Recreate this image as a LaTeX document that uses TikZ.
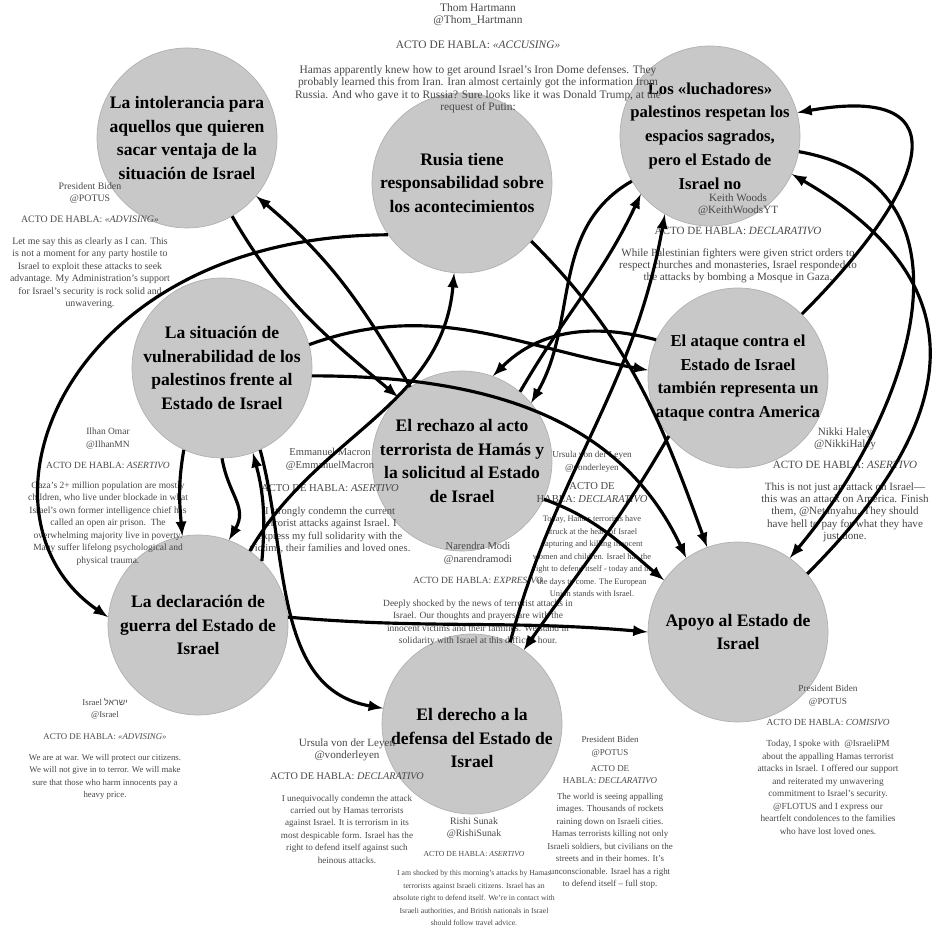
\documentclass[tikz,border=0pt]{standalone}
\usepackage{fontspec}
\setmainfont{Liberation Serif}
\newfontfamily\hebfont[Script=Hebrew]{Liberation Sans}
\TeXXeTstate=1
\usepackage{xcolor}
\usepackage{tikz}
\definecolor{catgray}{HTML}{C8C8C8}
\definecolor{catedge}{HTML}{B0B0B0}
\definecolor{tweetgray}{HTML}{474747}
\newcommand{\bigname}[2]{{\fontsize{#1}{8.6}\selectfont #2}}

\begin{document}
\begin{tikzpicture}[x=0.02cm, y=0.02cm,
    cat/.style={circle, fill=catgray, draw=catedge, minimum size=3.6cm, inner sep=0pt},
    cattext/.style={align=center, inner sep=0pt, font={\fontsize{10}{13.5}\selectfont\bfseries}},
    tweet/.style={anchor=north, align=center, inner sep=0pt, text=tweetgray, font={\fontsize{6.3}{7.1}\selectfont}},
    tsize/.style={font={\fontsize{#1}{7.1}\selectfont}},
    flow/.style={-latex, line width=1.8pt}]
    \useasboundingbox (0,0) rectangle (950,936);
        % categorias
        \node[cat, label={[cattext]center:La intolerancia para\\ aquellos que quieren\\ sacar ventaja de la\\ situación de Israel}] (intol) at (187,798) {};
        \node[cat, label={[cattext]center:Rusia tiene\\ responsabilidad sobre\\ los acontecimientos}] (rusia) at (462,753) {};
        \node[cat, label={[cattext, font={\fontsize{9.5}{13.5}\selectfont\bfseries}]center:Los «luchadores»\\ palestinos respetan los\\ espacios sagrados,\\ pero el Estado de\\ Israel no}] (luch) at (710,800) {};
        \node[cat, label={[cattext]center:La situación de\\ vulnerabilidad de los\\ palestinos frente al\\ Estado de Israel}] (vuln) at (222,568) {};
        \node[cat, label={[cattext]center:El rechazo al acto\\ terrorista de Hamás y\\ la solicitud al Estado\\ de Israel}] (rech) at (462,475) {};
        \node[cat, label={[cattext, font={\fontsize{9.5}{13.5}\selectfont\bfseries}]center:El ataque contra el\\ Estado de Israel\\ también representa un\\ ataque contra America}] (ataq) at (738,558) {};
        \node[cat, label={[cattext]center:La declaración de\\ guerra del Estado de\\ Israel}] (guerra) at (198,311) {};
        \node[cat, label={[cattext]center:Apoyo al Estado de\\ Israel}] (apoyo) at (738,304) {};
        \node[cat, label={[cattext, yshift=-8pt]center:El derecho a la\\ defensa del Estado de\\ Israel}] (derecho) at (472,212) {};

        % tweets
        \node[tweet, tsize=6.5] (thom) at (478,933) {Thom Hartmann\\ @Thom\_Hartmann\\[7pt] ACTO DE HABLA: \textit{«ACCUSING»}\\[7pt] Hamas apparently knew how to get around Israel’s Iron Dome defenses. They\\ probably learned this from Iran. Iran almost certainly got the information from\\ Russia. And who gave it to Russia? Sure looks like it was Donald Trump, at the\\ request of Putin:};
        \node[tweet, tsize=5.6] (bidenA) at (90,754) {President Biden\\ @POTUS\\[5pt] ACTO DE HABLA: \textit{«ADVISING»}\\[5pt] Let me say this as clearly as I can. This\\ is not a moment for any party hostile to\\ Israel to exploit these attacks to seek\\ advantage. My Administration’s support\\ for Israel’s security is rock solid and\\ unwavering.};
        \node[tweet] (keith) at (738,743) {Keith Woods\\ @KeithWoodsYT\\[5pt] ACTO DE HABLA: \textit{DECLARATIVO}\\[5pt] While Palestinian fighters were given strict orders to\\ respect churches and monasteries, Israel responded to\\ the attacks by bombing a Mosque in Gaza.};
        \node[tweet, tsize=5.4] (ilhan) at (108,508) {Ilhan Omar\\ @IlhanMN\\[5pt] ACTO DE HABLA: \textit{ASERTIVO}\\[4pt] Gaza’s 2+ million population are mostly\\ children, who live under blockade in what\\ Israel’s own former intelligence chief has\\ called an open air prison.\ \ The\\ overwhelming majority live in poverty.\\ Many suffer lifelong psychological and\\ physical trauma.};
        \node[tweet, tsize=6.0] (macron) at (330,488) {Emmanuel Macron\\ @EmmanuelMacron\\[6pt] ACTO DE HABLA: \textit{ASERTIVO}\\[6pt] I strongly condemn the current\\ terrorist attacks against Israel. I\\ express my full solidarity with the\\ victims, their families and loved ones.};
        \node[tweet, tsize=4.8] (ursulaA) at (592,485) {\bigname{5.2}{Ursula von der Leyen}\\ \bigname{5.2}{@vonderleyen}\\[4pt] \bigname{6}{ACTO DE}\\ \bigname{6}{HABLA: \textit{DECLARATIVO}}\\[4pt] Today, Hamas terrorists have\\ struck at the heart of Israel\\ capturing and killing innocent\\ women and children. Israel has the\\ right to defend itself - today and in\\ the days to come. The European\\ Union stands with Israel.};
        \node[tweet] (nikki) at (845,509) {Nikki Haley\\ @NikkiHaley\\[5pt] ACTO DE HABLA: \textit{ASERTIVO}\\[5pt] This is not just an attack on Israel—\\ this was an attack on America. Finish\\ them, @Netanyahu. They should\\ have hell to pay for what they have\\ just done.};
        \node[tweet, tsize=5.4] (modi) at (478,394) {\bigname{6}{Narendra Modi}\\ \bigname{6}{@narendramodi}\\[5pt] ACTO DE HABLA: \textit{EXPRESIVO}\\[6pt] Deeply shocked by the news of terrorist attacks in\\ Israel. Our thoughts and prayers are with the\\ innocent victims and their families. We stand in\\ solidarity with Israel at this difficult hour.};
        \node[tweet, tsize=5.0] (israel) at (105,238) {Israel {\hebfont\beginR ישראל\endR}\\ @Israel\\[5pt] ACTO DE HABLA: \textit{«ADVISING»}\\[5pt] We are at war. We will protect our citizens.\\ We will not give in to terror. We will make\\ sure that those who harm innocents pay a\\ heavy price.};
        \node[tweet, tsize=5.3] (bidenB) at (828,251) {President Biden\\ @POTUS\\[5pt] ACTO DE HABLA: \textit{COMISIVO}\\[5pt] Today, I spoke with\ \ @IsraeliPM\\ about the appalling Hamas terrorist\\ attacks in Israel. I offered our support\\ and reiterated my unwavering\\ commitment to Israel’s security.\\ @FLOTUS and I express our\\ heartfelt condolences to the families\\ who have lost loved ones.};
        \node[tweet, tsize=5.2] (ursulaB) at (347,198) {\bigname{6.3}{Ursula von der Leyen}\\ \bigname{6.3}{@vonderleyen}\\[5pt] \bigname{5.8}{ACTO DE HABLA: \textit{DECLARATIVO}}\\[5pt] I unequivocally condemn the attack\\ carried out by Hamas terrorists\\ against Israel. It is terrorism in its\\ most despicable form. Israel has the\\ right to defend itself against such\\ heinous attacks.};
        \node[tweet, tsize=5.1] (bidenC) at (610,200) {President Biden\\ @POTUS\\[2pt] ACTO DE\\ HABLA: \textit{DECLARATIVO}\\[2pt] The world is seeing appalling\\ images. Thousands of rockets\\ raining down on Israeli cities.\\ Hamas terrorists killing not only\\ Israeli soldiers, but civilians on the\\ streets and in their homes. It’s\\ unconscionable. Israel has a right\\ to defend itself – full stop.};
        \node[tweet, tsize=4.4] (rishi) at (474,119) {\bigname{5.6}{Rishi Sunak}\\ \bigname{5.6}{@RishiSunak}\\[4pt] ACTO DE HABLA: \textit{ASERTIVO}\\[4pt] I am shocked by this morning’s attacks by Hamas\\ terrorists against Israeli citizens. Israel has an\\ absolute right to defend itself. We’re in contact with\\ Israeli authorities, and British nationals in Israel\\ should follow travel advice.};

        % flechas
        \draw[flow] (rusia.215) .. controls (60,700) and (-40,420) .. (guerra.175);
        \draw[flow] (rech.125) to[out=120,in=-40] (intol.-40);
        \draw[flow] (guerra.55) to[out=60,in=-95] (rusia.-95);
        \draw[flow] (ataq.45) to[out=45,in=10,looseness=2.2] (luch.15);
        \draw[flow] (apoyo.40) to[out=45,in=-30,looseness=1.4] (luch.-25);
        \draw[flow] (luch.-10) to[out=-10,in=50,looseness=1.2] (apoyo.55);
        \draw[flow] (rech.50) to[out=60,in=-115] (luch.-140);
        \draw[flow] (derecho.65) to[out=75,in=-100] (luch.-120);
        \draw[flow] (vuln.15) to[out=20,in=170] (ataq.175);
        \draw[flow] (vuln.-5) to[out=0,in=115] (apoyo.125);
        \draw[flow] (guerra.5) to[out=-5,in=175] (apoyo.180);
        \draw[flow] (vuln.-65) to[out=-75,in=170] (derecho.170);
        \draw[flow] (guerra.45) to[out=85,in=-75] (vuln.-70);
        \draw[flow] (vuln.-115) to[out=-100,in=95] (guerra.100);
        \draw[flow] (vuln.-90) to[out=-80,in=60,looseness=1.2] (guerra.70);
        \draw[flow] (ataq.155) to[out=165,in=45] (rech.70);
        \draw[flow] (ataq.-140) to[out=-120,in=55] (derecho.55);
        \draw[flow] (rusia.-40) to[out=-45,in=110] (apoyo.110);
        \draw[flow] (rech.-25) to[out=-20,in=140] (apoyo.145);
        \draw[flow] (intol.-60) to[out=-60,in=140] (rech.135);
        \draw[flow] (luch.-150) to[out=-150,in=60] (rech.40);
\end{tikzpicture}
\end{document}
